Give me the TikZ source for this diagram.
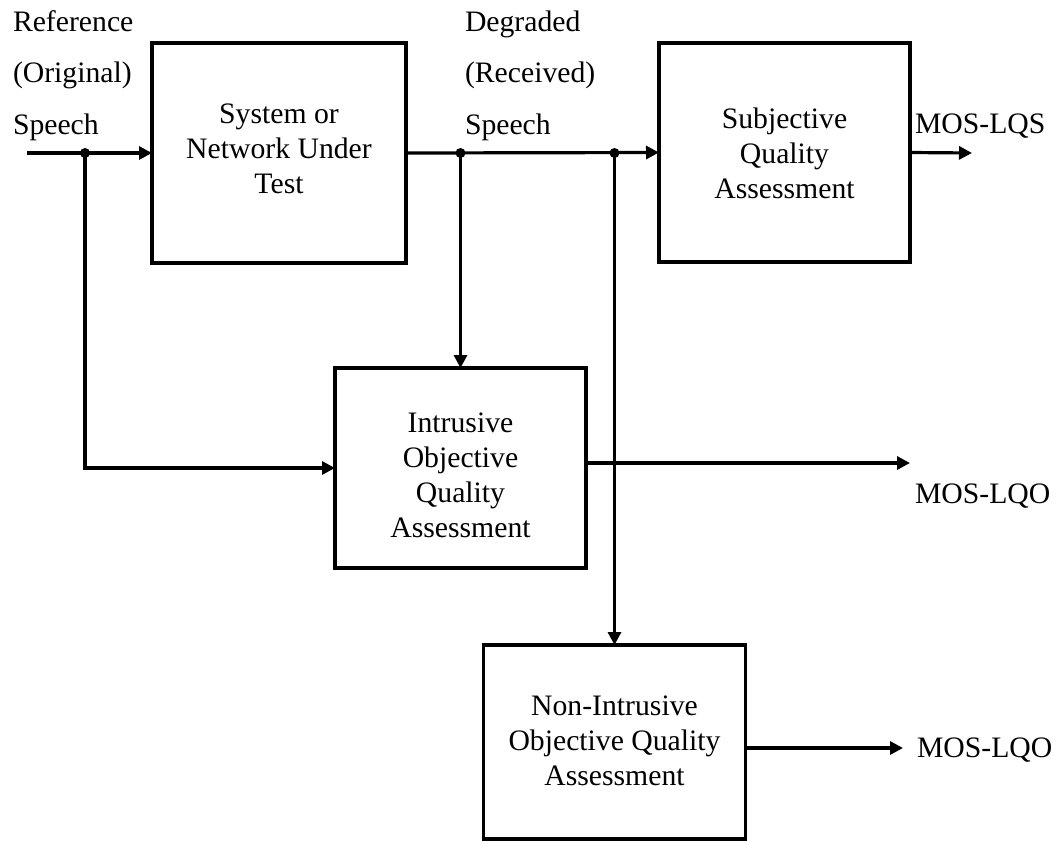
\documentclass[tikz,border=0pt]{standalone}
\usepackage{fontspec}
\setmainfont{Liberation Serif}
\usetikzlibrary{arrows.meta}

\begin{document}
\begin{tikzpicture}[x=1pt, y=-1pt,
  every node/.style={inner sep=0pt, outer sep=0pt},
  txt/.style={font=\fontsize{29.7}{35}\selectfont, align=center, anchor=base},
  lbl/.style={font=\fontsize{29.7}{51.5}\selectfont, align=left, anchor=base west},
  blk/.style={draw, line width=3.2pt, rectangle},
  wire/.style={line width=3.2pt},
  flow/.style={wire, -{Triangle[length=13pt, width=13pt]}},
  dot/.style={circle, fill=black, minimum size=10pt}
]
\useasboundingbox (0,0) rectangle (1058,841);

% processing blocks
\node[blk, minimum width=254pt, minimum height=220pt] (sys)   at (279,153)   {};
\node[blk, minimum width=251pt, minimum height=219pt] (subj)  at (784.5,152.5) {};
\node[blk, minimum width=251pt, minimum height=200pt] (intr)  at (460.5,468) {};
\node[blk, minimum width=262pt, minimum height=194pt] (nonin) at (614.5,742) {};

% block captions (placed by the baseline of their last line)
\node[txt] (sysT)   at (279,193)   {System or\\Network Under\\Test};
\node[txt] (subjT)  at (784.5,198) {Subjective\\Quality\\Assessment};
\node[txt] (intrT)  at (460.5,537) {Intrusive\\Objective\\Quality\\Assessment};
\node[txt] (noninT) at (614.5,785) {Non-Intrusive\\Objective Quality\\Assessment};

% signal labels
\node[lbl] (refL) at (13,134)  {Reference\\(Original)\\Speech};
\node[lbl] (degL) at (465,134) {Degraded\\(Received)\\Speech};
\node[lbl] (lqs)  at (915,133) {MOS-LQS};
\node[lbl] (lqo1) at (915,503) {MOS-LQO};
\node[lbl] (lqo2) at (917,757) {MOS-LQO};

% branch points and free ends
\coordinate (in) at (27,153);
\node[dot] (d1) at (85,153) {};
\node[dot] (d2) at (460.5,153) {};
\node[dot] (d3) at (614.5,153) {};
\coordinate (o1) at (972,153);
\coordinate (o2) at (910,463);
\coordinate (o3) at (903,748);

% connectors
\draw[flow] (in) -- (sys.west);
\draw[flow] (d1.center) |- (intr.west);
\draw[flow] (sys.east) -- (subj.west);
\draw[flow] (d2.center) -- (intr.north);
\draw[flow] (d3.center) -- (nonin.north);
\draw[flow] (subj.east) -- (o1);
\draw[flow] (o2 -| intr.east) -- (o2);
\draw[flow] (o3 -| nonin.east) -- (o3);
\end{tikzpicture}
\end{document}
